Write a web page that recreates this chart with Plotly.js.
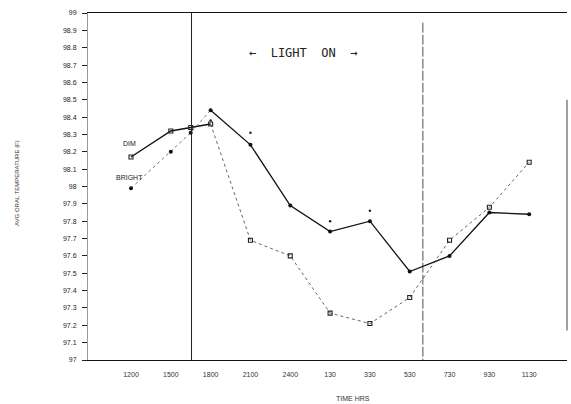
<!DOCTYPE html>
<html>
<head>
<meta charset="utf-8">
<script src="https://cdn.plot.ly/plotly-3.0.1.min.js"></script>
<style>html,body{margin:0;padding:0;background:#fff;}#chart{width:571px;height:404px;}</style>
</head>
<body>
<div id="chart"></div>
<script>
// Time categories (x positions are category indices; 1.5 = moment lights were switched on)
const timeLabels = ["1200","1500","1800","2100","2400","130","330","530","730","930","1130"];
const xPositions = [0, 1, 1.5, 2, 3, 4, 5, 6, 7, 8, 9, 10];

// Average oral temperature (F)
const dimTemps    = [98.17, 98.32, 98.34, 98.36, 97.69, 97.60, 97.27, 97.21, 97.36, 97.69, 97.88, 98.14];
const brightTemps = [97.99, 98.20, 98.31, 98.44, 98.24, 97.89, 97.74, 97.80, 97.51, 97.60, 97.85, 97.84];

// Stray small dots above the bright curve
const extraX = [2, 3, 5, 6];
const extraY = [98.38, 98.31, 97.80, 97.86];

// Y tick labels
const yTickLabels = ["97","97.1","97.2","97.3","97.4","97.5","97.6","97.7","97.8","97.9",
                     "98","98.1","98.2","98.3","98.4","98.5","98.6","98.7","98.8","98.9","99"];

// Light period boundaries (in category index units)
const lightOn = 1.52, lightOff = 7.33;

const split = 3; // index where line styles change
const traces = [
  { x: xPositions.slice(0, split + 1), y: dimTemps.slice(0, split + 1), mode: 'lines',
    line: {color: '#111', width: 1.4}, hoverinfo: 'skip' },
  { x: xPositions.slice(split), y: dimTemps.slice(split), mode: 'lines',
    line: {color: '#666', width: 1, dash: 'dot'}, hoverinfo: 'skip' },
  { x: xPositions, y: dimTemps, mode: 'markers', name: 'DIM',
    marker: {symbol: 'square-open', size: 4, color: '#222', line: {width: 1.1, color: '#222'}} },
  { x: xPositions.slice(0, split + 1), y: brightTemps.slice(0, split + 1), mode: 'lines',
    line: {color: '#777', width: 1, dash: 'dot'}, hoverinfo: 'skip' },
  { x: xPositions.slice(split), y: brightTemps.slice(split), mode: 'lines',
    line: {color: '#111', width: 1.3}, hoverinfo: 'skip' },
  { x: xPositions, y: brightTemps, mode: 'markers', name: 'BRIGHT',
    marker: {symbol: 'circle', size: 4, color: '#111'} },
  { x: extraX, y: extraY, mode: 'markers', marker: {symbol: 'circle', size: 2.5, color: '#222'} }
];

const tickVals = timeLabels.map((_, i) => i);
const yVals = yTickLabels.map(s => parseFloat(s));

const layout = {
  width: 571, height: 404,
  margin: {l: 88, r: 4, t: 13, b: 44},
  paper_bgcolor: '#fff', plot_bgcolor: '#fff',
  showlegend: false,
  font: {family: 'Liberation Sans, Arial, sans-serif', size: 7, color: '#222'},
  xaxis: {
    range: [-1.08, 10.95], tickvals: tickVals, ticktext: timeLabels,
    showline: true, linecolor: '#111', linewidth: 1, mirror: true,
    showgrid: false, zeroline: false,
    ticks: '', ticklabelstandoff: 8,
    tickfont: {size: 7, color: '#333'}
  },
  yaxis: {
    range: [97, 99], tickvals: yVals, ticktext: yTickLabels,
    showline: true, linecolor: '#999', linewidth: 1,
    showgrid: false, zeroline: false,
    ticks: 'outside', ticklen: 5, tickcolor: '#222',
    ticklabelstandoff: 4,
    tickfont: {size: 7, color: '#222'}
  },
  shapes: [
    {type: 'line', xref: 'x', yref: 'y', x0: lightOn, x1: lightOn, y0: 97, y1: 99,
     line: {color: '#222', width: 1}},
    {type: 'line', xref: 'x', yref: 'y', x0: lightOff, x1: lightOff, y0: 96.95, y1: 98.95,
     line: {color: '#222', width: 0.8, dash: '10px,2px'}},
    {type: 'line', xref: 'paper', yref: 'y', x0: 1, x1: 1, y0: 97.17, y1: 98.5,
     line: {color: '#444', width: 1}}
  ],
  annotations: [
    {text: '←  LIGHT  ON  →', xref: 'paper', yref: 'paper', x: (303 - 88) / 479, y: (360 - 53) / 347,
     showarrow: false, xanchor: 'center', yanchor: 'middle',
     font: {family: 'DejaVu Sans Mono, Liberation Mono, monospace', size: 12, color: '#222'}},
    {text: 'DIM', xref: 'x', yref: 'y', x: -0.05, y: 98.25, showarrow: false,
     font: {size: 7, color: '#222'}},
    {text: 'BRIGHT', xref: 'x', yref: 'y', x: -0.03, y: 98.05, showarrow: false,
     font: {size: 7, color: '#222'}},
    {text: 'TIME HRS', xref: 'paper', yref: 'paper', x: (353 - 88) / 479, y: (360 - 398) / 347,
     showarrow: false, xanchor: 'center', yanchor: 'middle', font: {size: 7, color: '#333'}},
    {text: 'AVG ORAL TEMPERATURE (F)', xref: 'paper', yref: 'paper', x: (17 - 88) / 479, y: (360 - 183) / 347,
     showarrow: false, textangle: -90, xanchor: 'center', yanchor: 'middle',
     font: {size: 6, color: '#333'}}
  ]
};

Plotly.newPlot('chart', traces, layout, {displayModeBar: false, staticPlot: true});
</script>
</body>
</html>
